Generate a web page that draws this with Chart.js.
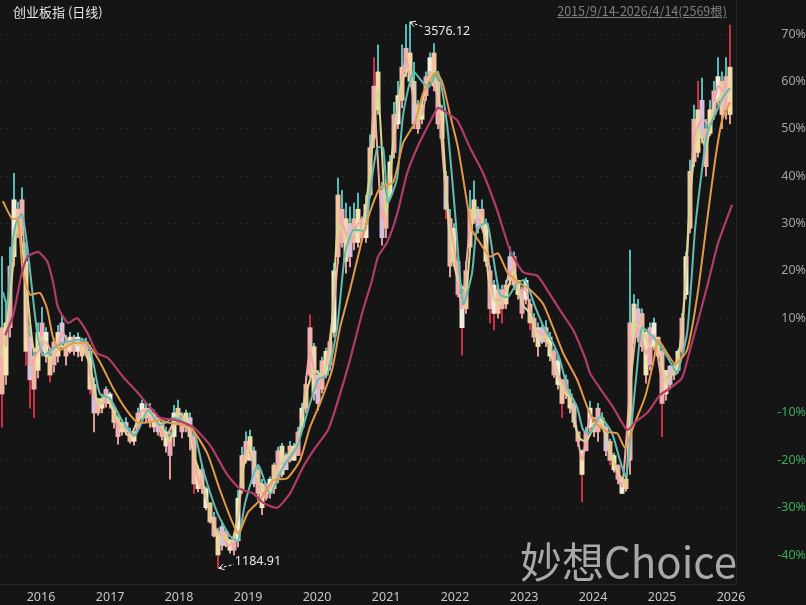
<!DOCTYPE html>
<html>
<head>
<meta charset="utf-8">
<title>创业板指 (日线)</title>
<script src="https://cdn.jsdelivr.net/npm/chart.js@4"></script>
<style>
  body { margin: 0; background: #151516; font-family: "Noto Sans CJK SC", "Noto Sans", sans-serif; }
  #wrap { position: relative; width: 806px; height: 605px; overflow: hidden; }
  canvas { display: block; }
  .txt { position: absolute; white-space: nowrap; }
  #title { left: 13px; top: 2px; font-size: 13px; line-height: 19px; color: #e6e6e6; }
  #range { right: 79px; top: 1px; font-size: 12.5px; line-height: 19px; color: #808080; text-decoration: underline; }
  #mark { left: 520px; top: 535px; font-size: 42px; line-height: 50px; color: #a8a8a8; }
</style>
</head>
<body>
<div id="wrap">
  <canvas id="kline" width="806" height="605"></canvas>
  <div class="txt" id="title">创业板指 (日线)</div>
  <div class="txt" id="range">2015/9/14-2026/4/14(2569根)</div>
  <div class="txt" id="mark">妙想Choice</div>
</div>
<script>
// Axis values, x is the bar number (2569 daily bars)
const yearBars = [84, 326, 567, 809, 1050, 1292, 1533, 1775, 2016, 2258, 2499];
const yearLabels = ['2016', '2017', '2018', '2019', '2020', '2021', '2022', '2023', '2024', '2025', '2026'];
const percentTicks = [70, 60, 50, 40, 30, 20, 10, 0, -10, -20, -30, -40];

// The candles (percent change)
const barsPerSample = 14;
const highs = [23,13,25,40.6,34.5,37.5,26,8.5,3.7,9,12.3,8,3,5.8,8.5,10.7,6.4,7,6.4,6.9,5.8,5.8,4.3,-2.6,-6.9,-6,-4.5,-5.6,-8.3,-10.5,-12,-11,-13.2,-14,-9,-7.3,-8,-8,-9.4,-10.9,-12,-13,-14,-8.4,-7.3,-10,-9.4,-10,-14.3,-21.4,-21,-25.6,-29,-31,-34.3,-33,-34.7,-36.8,-36.2,-26.3,-17.2,-14,-13.6,-17.2,-21.4,-24,-24.8,-23.5,-20.6,-17.2,-16.4,-18.5,-16,-16.4,-13,-8,-2.4,10.7,4.7,-1,1.8,3.7,6,21.6,39.6,37,34.3,33.5,34.3,36.4,31.4,36,48.7,65,67.7,38.7,37,44.4,55.6,60,67.7,72,72.5,64,56,56,62,66,68,62,55,41,33,30,23,16.5,22,37,39,33.5,35,31,21,18,17,17,18,25,24,18,16.6,18.5,14,11,9,8.5,9.5,7,3.5,2,-3,-2,-5,-7.5,-14,-17.8,-13,-7.5,-12,-8,-10,-12.5,-15.5,-18.5,-21,-23.5,-23.5,24.4,15,14,12,7.5,9,10,6,3.3,-1,0,0.5,3.3,11,24,43.4,55,60,60.7,52,56,60,65,62,65,71.9];
const lows = [-13,-4,6,21,27,27.5,0,-9,-11,-2.6,2,0.7,-3.5,-1.4,0.7,3.7,0,2.6,2.2,1.8,1,2.6,-6,-14,-10.5,-10,-8.8,-9,-13.2,-16.6,-14.7,-14.7,-16.4,-16.8,-13.2,-12,-12,-13,-14,-14.7,-15.7,-18.3,-24,-17,-12,-15.3,-14,-17.8,-27,-26.7,-27,-30.5,-33.3,-36.2,-42.8,-39,-38.3,-39.6,-40,-38.3,-27,-20.6,-20,-25.6,-28.4,-31.5,-28.4,-28,-27,-24.8,-23.5,-22,-20.4,-20,-19,-13.6,-10,-2.4,-7.3,-9.4,-5.8,-2.6,-1,6,21.6,25,19.5,20.8,24.4,25,26.5,26,35.4,46,53,25.4,27,35.4,43.8,50,54.4,61,59,50,49,51,56,60,58,50,47,31,18.7,21,14.5,2.2,11,24.4,30,28,29,21,9,7.5,10,9,12,17,16,14,10,13,7.5,5,2,4.7,4,1,-2.5,-5,-11,-7,-10,-13,-17,-28.8,-18,-14,-15,-16,-13,-19,-21,-22.5,-25,-27,-26.5,-23,4.7,5,3,-3.7,-1,3.3,1.8,-15,-7.3,-5,-3,-1.6,2.6,14,28,42,44,47,40,48.5,52,55,50,52,51];
const bodyHighs = [8,9,21,35,33,35,22,6,2,7,9,7,2,5,7,9,5,6,6,6,5,5,3,-4,-7,-7,-5,-6,-9,-11,-12,-12,-14,-14,-10,-8,-9,-9,-10,-11,-12,-14,-15,-10,-9,-11,-10,-11,-15,-22,-22,-26,-29,-32,-35,-34,-35,-37,-37,-28,-19,-16,-15,-18,-22,-25,-25,-24,-21,-18,-17,-19,-17,-17,-14,-9,-4,8,4,-2,1,3,5,20,36,33,31,30,31,33,31,34,46,59,62,37,36,43,53,57,63,67,66,60,55,55,61,65,66,60,54,40,31,29,22,15,20,33,35,33,33,30,20,17,16,16,17,23,23,18,16,18,13,10,8,8,8,6,3,1,-3,-3,-6,-8,-14,-18,-14,-9,-12,-9,-11,-13,-16,-19,-21,-24,-24,9,13,12,11,7,8,9,6,3,-1,0,0,3,10,23,41,52,54,56,50,54,58,61,60,61,63];
const bodyLows = [-6,-2,8,23,28,29,3,-3,-5,-1,3,2,-2,0,2,5,2,3,3,3,2,3,-5,-10,-10,-9,-8,-8,-12,-15,-14,-14,-16,-16,-13,-11,-11,-12,-13,-14,-15,-17,-19,-15,-11,-14,-13,-15,-25,-26,-26,-30,-33,-36,-40,-38,-38,-39,-39,-37,-26,-20,-20,-25,-27,-30,-28,-27,-26,-24,-23,-22,-20,-20,-19,-13,-9,-2,-6,-8,-5,-2,0,7,23,26,22,23,26,26,27,27,36,48,54,27,29,36,45,51,56,62,60,51,50,52,57,60,59,51,48,33,21,22,15,8,12,25,31,29,30,22,12,11,11,12,13,18,17,15,11,14,9,6,4,5,5,2,-2,-4,-8,-6,-9,-12,-16,-23,-18,-13,-14,-14,-13,-18,-20,-22,-24,-27,-26,-20,6,6,4,-2,0,4,2,-8,-6,-4,-2,-1,3,15,29,43,45,48,42,49,53,56,53,54,53];
// Samples whose upper wick is red instead of teal, and lower wick clearly red
const redTopSamples = [77, 93, 174, 182];
const redBottomSamples = [0, 6, 7, 8, 10, 12, 22, 48, 54, 111, 115, 122, 123, 125, 132, 140, 145, 152, 165];

// Short moving averages, read every 28 bars
const barsPerShortSample = 28;
const maShort = [2,14,31,18,3,6,1,4,4,4.5,4,0,-8,-6.5,-10,-13,-15,-11.5,-10,-11,-13,-16,-10,-11.5,-19,-24,-31,-36,-36.5,-37,-23,-17,-24,-26.5,-23.5,-20,-18.5,-16,-6,-1,-2,2.5,30,27,28,29,41,58,32,49,60,63,52,59,62,51,26,18,16,33,31,16,13,15,20,13,11,6,6,0,-5,-7,-15,-16,-13,-12,-18,-22.5,-25,9,7.5,4,4,-3.5,-1,6.5,35,50,46,55,57,58];
const maFast = [4,28,32,0,3,5,2,7,4.5,4.5,4,-7,-8,-7,-13,-13,-15,-9.5,-10.5,-12.5,-15,-12,-12.5,-13,-24,-28,-34,-36,-38,-32,-17,-21,-27,-26,-21,-20.5,-18.5,-11,3,-5,0,13,30,26,30,30,55,31,40,55,65,56,53,62,56,36,25,12,29,31,26,14,14,20,16,16,8,6.5,4,-2,-4.5,-10,-20,-11,-11.5,-15,-20.5,-25.5,-5,9,2.5,6.5,-3,-2,1,19,48,52,51,59,57];

// Mid moving average
const maMidBars = [10,25,42,56,77,95,116,133,151,193,235,298,326,350,385,431,473,518,560,613,676,711,760,805,833,858,903,945,991,1040,1078,1113,1145,1180,1208,1236,1278,1295,1320,1341,1358,1390,1411,1446,1477,1498,1533,1565,1593,1621,1652,1670,1705,1726,1750,1778,1810,1838,1873,1908,1936,1960,1985,2020,2041,2065,2100,2142,2170,2191,2212,2230,2247,2286,2321,2356,2370,2405,2433,2457,2475,2503,2531,2555];
const maMid = [15.5,12.8,25,30,32,25.4,14,5.8,2.2,3.9,5,5.4,0.7,-6,-7,-12,-14.7,-9.4,-12.6,-11,-13.6,-22,-31,-36,-37,-29,-21,-27,-21.4,-17,-9.4,-3,-2,8,23.8,28.6,28.6,36.6,46,46,34.5,39.6,53,62,60,58.6,62,50.8,32,13,19.5,29,30,23,15,14.5,17.4,18,12.4,7.5,4.7,1.2,-4.5,-8.8,-13.6,-14.3,-10.8,-14.3,-20,-23.5,-11.5,-0.3,8,6,3.3,-0.3,-1.6,6.9,29,41.3,49,53,56.7,58.6];

// Half year moving average
const maHalfBars = [10,42,63,80,105,140,165,186,210,255,305,350,396,438,480,515,560,585,665,725,770,833,868,910,956,1005,1050,1085,1120,1162,1190,1225,1267,1295,1330,1376,1411,1453,1481,1523,1547,1575,1603,1635,1652,1680,1715,1743,1778,1820,1855,1901,1936,1971,2020,2055,2083,2125,2160,2188,2216,2258,2286,2303,2335,2363,2405,2440,2475,2503,2527,2555];
const maHalf = [34.7,31,31,19.7,15,15.3,12,5.8,3.3,4.7,4.7,0.7,-4.8,-9,-12,-12,-11.5,-12,-13,-18.5,-26.3,-35.4,-31,-28.4,-24.2,-23.8,-20,-13,-8,-1,8,16,26.5,32.4,37.5,38.7,47,51.4,57.5,61.8,60,53,46,34.3,28.6,25.9,23,23.7,19.5,17.4,16,13,8,2.6,-3,-8.7,-12,-14,-14.3,-17.4,-13,-6.6,0.5,5.4,2.6,0.3,3.3,14.5,30.7,43.4,51.8,55.6];

// Year moving average
const maYearBars = [18,46,77,98,133,165,186,203,238,270,305,340,378,431,480,525,560,613,676,735,795,840,886,921,970,1015,1061,1103,1148,1180,1225,1267,1302,1323,1355,1390,1425,1460,1505,1533,1565,1600,1645,1691,1740,1785,1831,1880,1915,1960,2006,2048,2065,2100,2146,2195,2223,2268,2310,2345,2387,2415,2450,2478,2513,2562];
const maYear = [6.4,10.6,19.7,23,24,22,17.6,12.3,9,10,7,2.6,1.6,-2.4,-5.6,-8.8,-11,-11.5,-13,-16.8,-23,-26,-27,-29,-30,-27,-21.4,-17.4,-13.6,-8,1.2,11,18,23,26,32,40.6,46,51.4,54.4,53.3,51.8,46,40.6,32.8,24.4,19.7,19,16,11.7,7.5,1.6,-1.6,-4.8,-8.8,-13.6,-12,-9.8,-6.2,-4.8,-2.6,3.3,11,17.4,25.8,33.9];

// The two marked extremes
const extremes = [
    { bar: 1435, pct: 72.5, text: '3576.12', tailX: 14, tailY: 5, textX: 14, textY: 9 },
    { bar: 766, pct: -42.8, text: '1184.91', tailX: 15, tailY: -4, textX: 16, textY: -7 }
];

const bodyColors = ['#f0b6a4', '#f3e4b4', '#eca8b4', '#f2ecdc', '#f2c4a0', '#f0b0b0', '#f0d8a8', '#d8c0d8'];

// Build {x, y} points for the library
const sampleBar = i => barsPerSample * i + 7;
const pairs = (bars, values) => values.map((v, i) => ({ x: bars[i], y: v }));
const floats = (tops, bottoms) => tops.map((t, i) => ({ x: sampleBar(i), y: [bottoms[i], t] }));

function lineSet(points, color, width, order) {
    return {
        type: 'line',
        data: points,
        borderColor: color,
        borderWidth: width,
        pointRadius: 0,
        tension: 0.2,
        order: order
    };
}

function barSet(points, color, thickness, order) {
    return {
        type: 'bar',
        data: points,
        backgroundColor: color,
        barThickness: thickness,
        grouped: false,
        order: order
    };
}

// Draws the dashed arrow and the value next to each extreme
const extremeLabels = {
    id: 'extremeLabels',
    afterDatasetsDraw(c) {
        const ctx = c.ctx;
        ctx.save();
        ctx.strokeStyle = '#ffffff';
        ctx.fillStyle = '#e8e8e8';
        ctx.font = '12.5px "Noto Sans", sans-serif';
        ctx.textBaseline = 'middle';
        extremes.forEach(e => {
            const x = c.scales.x.getPixelForValue(e.bar);
            const y = c.scales.y.getPixelForValue(e.pct);
            ctx.lineWidth = 1;
            ctx.setLineDash([3, 2]);
            ctx.beginPath();
            ctx.moveTo(x, y);
            ctx.lineTo(x + e.tailX, y + e.tailY);
            ctx.stroke();
            ctx.setLineDash([]);
            const a = Math.atan2(e.tailY, e.tailX);
            ctx.beginPath();
            ctx.moveTo(x + 6 * Math.cos(a - 0.5), y + 6 * Math.sin(a - 0.5));
            ctx.lineTo(x, y);
            ctx.lineTo(x + 6 * Math.cos(a + 0.5), y + 6 * Math.sin(a + 0.5));
            ctx.stroke();
            ctx.fillText(e.text, x + e.textX, y + e.textY);
        });
        ctx.restore();
    }
};

new Chart(document.getElementById('kline').getContext('2d'), {
    data: {
        datasets: [
            lineSet(pairs(maYearBars, maYear), '#b23c68', 2.2, 1),
            lineSet(pairs(maHalfBars, maHalf), '#e39a4a', 2, 2),
            lineSet(pairs(maMidBars, maMid), '#62bcb0', 2, 3),
            lineSet(maShort.map((v, i) => ({ x: barsPerShortSample * i + 7, y: v })), '#d8d890', 2, 4),
            lineSet(maFast.map((v, i) => ({ x: barsPerShortSample * i + 21, y: v })), '#f0a8a8', 2, 5),
            barSet(floats(bodyHighs, bodyLows), c => bodyColors[c.dataIndex % bodyColors.length], 4.3, 6),
            barSet(floats(highs, bodyHighs), c => redTopSamples.includes(c.dataIndex) ? '#d8324c' : '#5cc8c4', 1.2, 7),
            barSet(floats(bodyLows, lows), c => redBottomSamples.includes(c.dataIndex) ? '#d8324c' : '#eaa8a4', 1.2, 7)
        ]
    },
    options: {
        responsive: false,
        animation: false,
        layout: { padding: 0 },
        plugins: { legend: { display: false }, tooltip: { enabled: false } },
        scales: {
            x: {
                type: 'linear',
                min: 0,
                max: 2576,
                offset: false,
                grid: { display: false, drawTicks: false },
                border: { color: '#262628' },
                afterBuildTicks: s => { s.ticks = yearBars.map(v => ({ value: v })); },
                afterFit: s => { s.height = 21; s.paddingLeft = 0; s.paddingRight = 0; },
                ticks: {
                    color: '#c6c6c6',
                    font: { family: '"Noto Sans", sans-serif', size: 12.5 },
                    padding: 6,
                    labelOffset: 17,
                    maxRotation: 0,
                    autoSkip: false,
                    callback: v => yearLabels[yearBars.indexOf(v)]
                }
            },
            y: {
                type: 'linear',
                position: 'right',
                min: -46.12,
                max: 77.18,
                grid: { color: '#262628', drawTicks: false },
                border: { color: '#262628', dash: [2, 4] },
                afterBuildTicks: s => { s.ticks = percentTicks.map(v => ({ value: v })); },
                afterFit: s => { s.width = 70; s.paddingTop = 0; s.paddingBottom = 0; },
                ticks: {
                    color: c => c.tick.value < 0 ? '#3fa75c' : '#a2a2a2',
                    font: { family: '"Noto Sans", sans-serif', size: 12.5 },
                    crossAlign: 'far',
                    padding: 0,
                    callback: v => v === 0 ? '' : `${v}%`
                }
            }
        }
    },
    plugins: [extremeLabels]
});
</script>
</body>
</html>
